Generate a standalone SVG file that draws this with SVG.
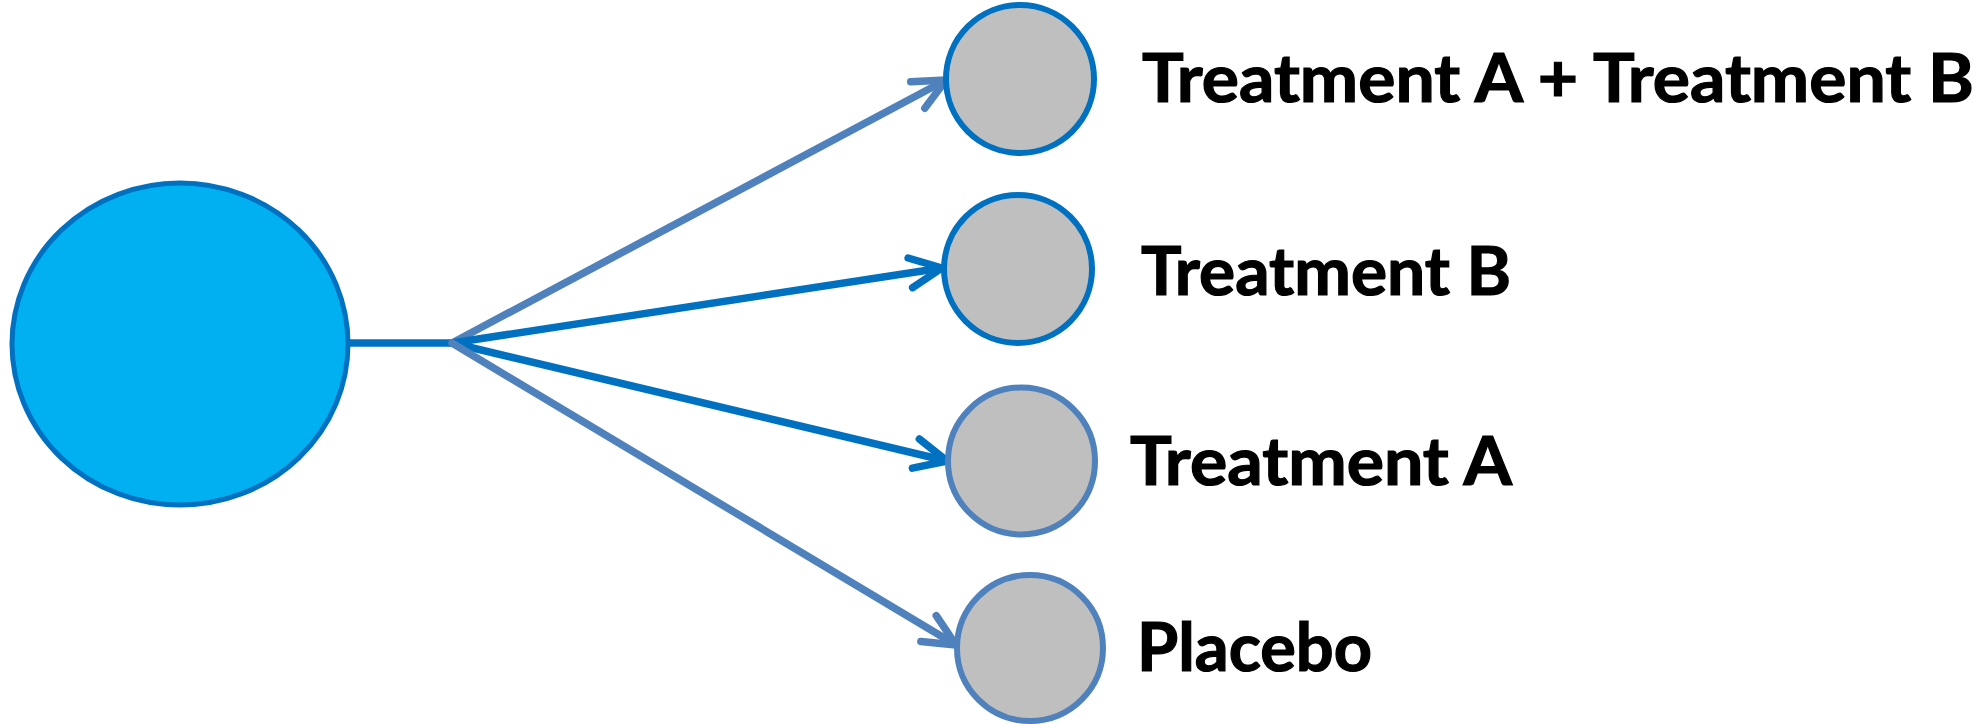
<svg xmlns="http://www.w3.org/2000/svg" width="1984" height="724" viewBox="0 0 1984 724">
<style>
.label{font-family:Lato,"Open Sans","Liberation Sans",sans-serif;font-weight:700;font-size:66px;fill:#000;stroke:#000;stroke-width:1.2}
.arm{stroke-width:7.5;stroke-linecap:round;fill:none}
.dark{stroke:#0070C0}
.steel{stroke:#4F81BD}
.small{fill:#BFBFBF;stroke-width:6}
</style>
<defs>
<marker id="arrDark" markerUnits="userSpaceOnUse" markerWidth="40" markerHeight="40" refX="0" refY="0" orient="auto" overflow="visible">
<path d="M-32,-15 L0,0 L-32,15" fill="none" stroke="#0070C0" stroke-width="7.5" stroke-linecap="round" stroke-linejoin="round"/>
</marker>
<marker id="arrSteel" markerUnits="userSpaceOnUse" markerWidth="40" markerHeight="40" refX="0" refY="0" orient="auto" overflow="visible">
<path d="M-32,-15 L0,0 L-32,15" fill="none" stroke="#4F81BD" stroke-width="7.5" stroke-linecap="round" stroke-linejoin="round"/>
</marker>
</defs>
<rect width="1984" height="724" fill="#fff"/>
<g id="connectors">
<line class="dark" x1="348" y1="343" x2="455" y2="343" stroke-width="7.5"/>
<line class="arm steel" x1="452" y1="343" x2="946" y2="80" marker-end="url(#arrSteel)"/>
<line class="arm dark" x1="452" y1="343" x2="942" y2="268" marker-end="url(#arrDark)"/>
<line class="arm dark" x1="452" y1="343" x2="947" y2="461" marker-end="url(#arrDark)"/>
<line class="arm steel" x1="452" y1="343" x2="956" y2="645" marker-end="url(#arrSteel)"/>
</g>
<g id="source">
<ellipse cx="180" cy="344" rx="168" ry="161" fill="#00B0F0" stroke="#0070C0" stroke-width="5"/>
</g>
<g id="node-ab">
<circle class="small dark" cx="1020" cy="79" r="74"/>
<text class="label" x="1142" y="102" textLength="832" lengthAdjust="spacingAndGlyphs">Treatment A + Treatment B</text>
</g>
<g id="node-b">
<circle class="small dark" cx="1018" cy="269" r="74"/>
<text class="label" x="1141" y="295" textLength="370" lengthAdjust="spacingAndGlyphs">Treatment B</text>
</g>
<g id="node-a">
<circle class="small steel" cx="1021.5" cy="461" r="73.5"/>
<text class="label" x="1130" y="485" textLength="382" lengthAdjust="spacingAndGlyphs">Treatment A</text>
</g>
<g id="node-placebo">
<circle class="small steel" cx="1030" cy="648" r="73"/>
<text class="label" x="1137" y="671" textLength="235" lengthAdjust="spacingAndGlyphs">Placebo</text>
</g>
</svg>
